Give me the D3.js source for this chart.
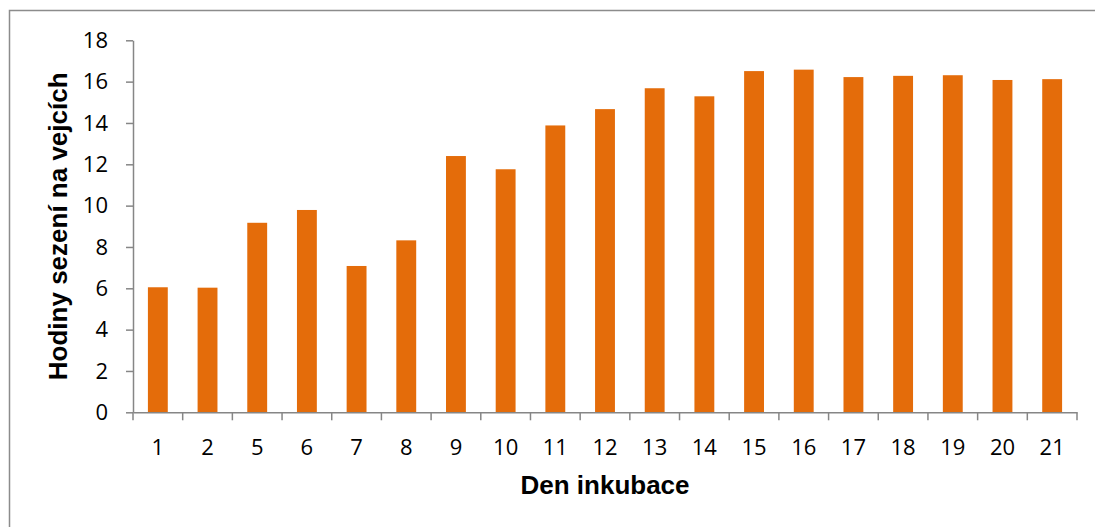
<!DOCTYPE html>
<html>
<head>
<meta charset="utf-8">
<script src="https://cdn.jsdelivr.net/npm/d3@7"></script>
<style>
  html, body { margin: 0; padding: 0; background: #fff; }
  svg { display: block; }
</style>
</head>
<body>
<svg id="chart" width="1095" height="527"></svg>
<script>
// Days of incubation and hours spent sitting on the eggs
const days = ["1", "2", "5", "6", "7", "8", "9", "10", "11", "12", "13", "14", "15", "16", "17", "18", "19", "20", "21"];
const hours = [6.05, 6.03, 9.17, 9.79, 7.08, 8.32, 12.40, 11.76, 13.88, 14.67, 15.68, 15.29, 16.51, 16.58, 16.22, 16.28, 16.31, 16.08, 16.12];
const yTicks = [0, 2, 4, 6, 8, 10, 12, 14, 16, 18];

const xTitle = "Den inkubace";
const yTitle = "Hodiny sezení na vejcích";

const svg = d3.select("#chart");
const axisColor = "#868686";
const barColor = "#E46C0A";

// Chart frame
svg.append("rect")
  .attr("x", 9.5).attr("y", 10.5)
  .attr("width", 1100).attr("height", 530)
  .attr("fill", "#fff")
  .attr("stroke", "#8c8c8c")
  .attr("stroke-width", 1.5);

const plot = { left: 133, right: 1077, top: 40.3, bottom: 412.3 };

const x = d3.scaleBand()
  .domain(days)
  .range([plot.left, plot.right])
  .paddingInner(0.6)
  .paddingOuter(0.3);

const y = d3.scaleLinear()
  .domain([0, 18])
  .range([plot.bottom, plot.top]);

// Bars
svg.append("g")
  .selectAll("rect")
  .data(days.map((d, i) => ({ day: d, value: hours[i] })))
  .join("rect")
  .attr("x", d => x(d.day))
  .attr("y", d => y(d.value))
  .attr("width", x.bandwidth())
  .attr("height", d => y(0) - y(d.value))
  .attr("fill", barColor);

// Y axis
const yAxis = svg.append("g")
  .attr("transform", `translate(${plot.left},0)`)
  .call(d3.axisLeft(y).tickValues(yTicks).tickSize(7).tickPadding(18).tickSizeOuter(0));
yAxis.select(".domain").attr("stroke", axisColor).attr("stroke-width", 1.5);
yAxis.selectAll(".tick line").attr("stroke", axisColor).attr("stroke-width", 1.5);
yAxis.selectAll(".tick text")
  .attr("fill", "#000")
  .style("font-family", "'Open Sans', sans-serif")
  .style("font-size", "22px");

// X axis: ticks sit on the band boundaries
const xAxis = svg.append("g")
  .attr("transform", `translate(0,${plot.bottom})`)
  .call(d3.axisBottom(x).tickSize(0).tickPadding(27).tickSizeOuter(0));
xAxis.select(".domain").attr("stroke", axisColor).attr("stroke-width", 1.5);
xAxis.selectAll(".tick text")
  .attr("fill", "#000")
  .style("font-family", "'Open Sans', sans-serif")
  .style("font-size", "22px");

const boundaries = days.map(d => x(d) - x.step() * x.paddingInner() / 2);
boundaries.push(plot.right);
xAxis.append("g")
  .selectAll("line")
  .data(boundaries)
  .join("line")
  .attr("x1", d => d).attr("x2", d => d)
  .attr("y1", 0).attr("y2", 8)
  .attr("stroke", axisColor)
  .attr("stroke-width", 1.5);

// Axis titles
svg.append("text")
  .attr("x", (plot.left + plot.right) / 2)
  .attr("y", 494)
  .attr("text-anchor", "middle")
  .style("font-family", "'Liberation Sans', Arial, sans-serif")
  .style("font-weight", "bold")
  .style("font-size", "26px")
  .text(xTitle);

svg.append("text")
  .attr("transform", `translate(67,${(plot.top + plot.bottom) / 2}) rotate(-90)`)
  .attr("text-anchor", "middle")
  .style("font-family", "'Liberation Sans', Arial, sans-serif")
  .style("font-weight", "bold")
  .style("font-size", "26px")
  .text(yTitle);
</script>
</body>
</html>
